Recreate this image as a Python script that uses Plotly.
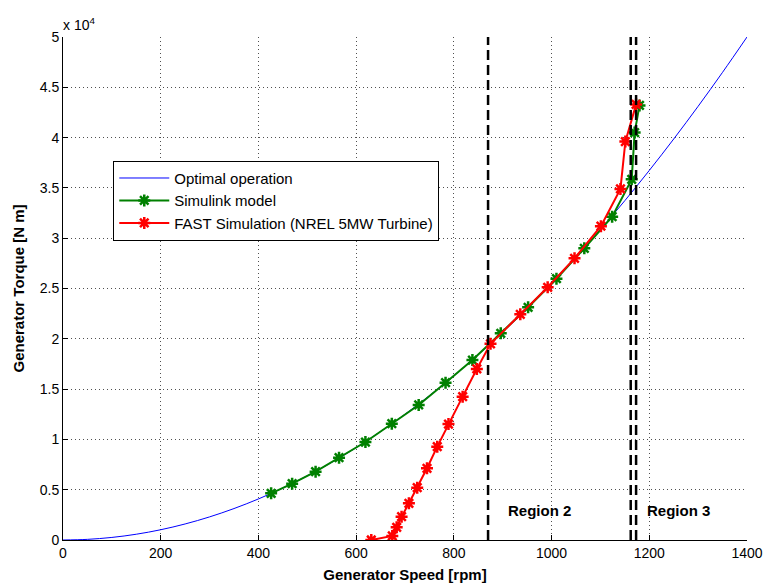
import plotly.graph_objects as go

# Optimal operation curve
opt_speed = [0, 50, 100, 150, 200, 250, 300, 350, 400, 450, 500, 550, 600, 650, 700,
             750, 800, 850, 900, 950, 1000, 1050, 1100, 1150, 1200, 1250, 1300, 1350, 1400]
opt_torque = [0, 64, 255, 574, 1020, 1594, 2296, 3125, 4082, 5166, 6378, 7717, 9184, 10778, 12500,
              14349, 16327, 18431, 20663, 23023, 25510, 28125, 30867, 33737, 36735, 39860, 43112, 46492, 50000]

# Simulink model
sim_speed = [426, 469, 517, 565, 619, 673, 728, 783, 838, 896, 952, 1010, 1067, 1124, 1164, 1170, 1180]
sim_torque = [4640, 5600, 6790, 8180, 9740, 11560, 13420, 15640, 17890, 20550, 23130, 25970, 29000,
              32140, 35850, 40500, 43200]

# FAST simulation
fast_speed = [631, 674, 683, 693, 708, 725, 745, 766, 789, 818, 847, 875, 936, 992, 1047, 1101,
              1141, 1151, 1173]
fast_torque = [0, 400, 1260, 2320, 3650, 5200, 7130, 9280, 11530, 14250, 17000, 19500, 22430, 25120,
               28000, 31200, 34900, 39600, 43300]

# Region boundaries
region_lines = [870, 1162, 1173]
region_labels = ["Region 2", "Region 3"]
region_label_x = [976, 1259]
region_label_y = [2900, 2900]

x_ticks = [0, 200, 400, 600, 800, 1000, 1200, 1400]
y_ticks = [0, 5000, 10000, 15000, 20000, 25000, 30000, 35000, 40000, 45000, 50000]
y_ticktext = ["0", "0.5", "1", "1.5", "2", "2.5", "3", "3.5", "4", "4.5", "5"]

FONT = "Liberation Sans, Arial, sans-serif"

fig = go.Figure()
fig.add_trace(go.Scatter(x=opt_speed, y=opt_torque, mode="lines", name="Optimal operation",
                         line=dict(color="#0000ff", width=1, shape="spline")))
fig.add_trace(go.Scatter(x=sim_speed, y=sim_torque, mode="lines+markers", name="Simulink model",
                         line=dict(color="#008000", width=2),
                         marker=dict(symbol="asterisk-open", size=10,
                                     line=dict(color="#008000", width=2.5))))
fig.add_trace(go.Scatter(x=fast_speed, y=fast_torque, mode="lines+markers",
                         name="FAST Simulation (NREL 5MW Turbine)",
                         line=dict(color="#ff0000", width=2),
                         marker=dict(symbol="asterisk-open", size=10,
                                     line=dict(color="#ff0000", width=2.5))))
for xv in region_lines:
    fig.add_trace(go.Scatter(x=[xv, xv], y=[0, 50000], mode="lines", showlegend=False,
                             hoverinfo="skip",
                             line=dict(color="black", width=2.5, dash="10px,5px")))

for txt, xv, yv in zip(region_labels, region_label_x, region_label_y):
    fig.add_annotation(x=xv, y=yv, text="<b>%s</b>" % txt, showarrow=False,
                       font=dict(family=FONT, size=15, color="black"),
                       xanchor="center", yanchor="middle")

fig.add_annotation(xref="paper", yref="paper", x=0, y=1, xanchor="left", yanchor="bottom",
                   text="x 10<sup>4</sup>", showarrow=False, yshift=2, xshift=-2,
                   font=dict(family=FONT, size=14, color="black"))

axis_common = dict(showline=True, linecolor="black", linewidth=1, ticks="inside", ticklen=5,
                   tickcolor="black", showgrid=True, gridcolor="rgb(80,80,80)", griddash="1px,3px",
                   gridwidth=1, zeroline=False, mirror=False, automargin=False,
                   tickfont=dict(family=FONT, size=14, color="black"))

fig.update_xaxes(range=[0, 1400], tickvals=x_ticks,
                 title=dict(text="<b>Generator Speed [rpm]</b>", standoff=10,
                            font=dict(family=FONT, size=15, color="black")),
                 **axis_common)
fig.update_yaxes(range=[0, 50000], tickvals=y_ticks, ticktext=y_ticktext,
                 title=dict(text="<b>Generator Torque [N m]</b>", standoff=11,
                            font=dict(family=FONT, size=15, color="black")),
                 **axis_common)

fig.update_layout(
    width=763, height=583,
    margin=dict(l=63, r=16, t=37, b=43),
    paper_bgcolor="white", plot_bgcolor="white",
    font=dict(family=FONT, size=14, color="black"),
    legend=dict(x=0.0735, y=0.754, xanchor="left", yanchor="top",
                bordercolor="black", borderwidth=1, bgcolor="white",
                font=dict(family=FONT, size=15, color="black"),
                itemwidth=50, tracegroupgap=0),
    showlegend=True,
)

fig.write_html("out.html", config={"displayModeBar": False},
               post_script="document.body.style.margin='0';document.body.style.overflow='hidden';")
